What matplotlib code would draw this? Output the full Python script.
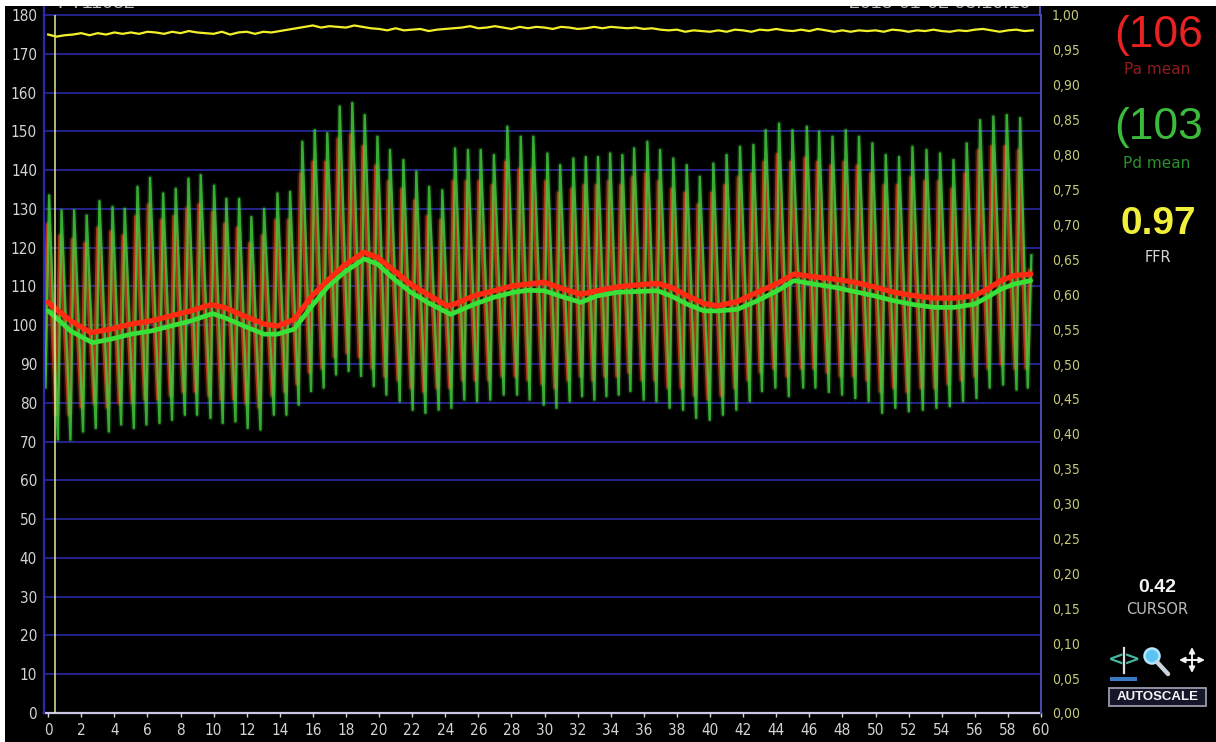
import matplotlib
matplotlib.use("Agg")
import matplotlib.pyplot as plt
from matplotlib import font_manager
from matplotlib.patches import Rectangle, Circle
from matplotlib.lines import Line2D

# ---------------- recorded data ----------------
# beat peak times (s)
beat_t = [0.06, 0.81, 1.57, 2.33, 3.10, 3.89, 4.63, 5.40, 6.16, 6.95, 7.71, 8.48, 9.22, 10.03,
          10.77, 11.54, 12.28, 13.05, 13.86, 14.62,
          15.36, 16.11, 16.87, 17.62, 18.38, 19.13, 19.90, 20.66, 21.47, 22.25, 23.02, 23.82,
          24.59, 25.37, 26.14, 26.94, 27.75, 28.56, 29.32,
          30.17, 30.94, 31.74, 32.49, 33.23, 33.96, 34.70, 35.41, 36.21, 36.98, 37.78, 38.59,
          39.38, 40.20, 41.00, 41.81, 42.62, 43.36, 44.17, 44.98,
          45.85, 46.59, 47.40, 48.20, 49.00, 49.81, 50.62, 51.42, 52.23, 53.08, 53.90, 54.71,
          55.51, 56.32, 57.12, 57.93, 58.74, 59.42]

# distal pressure (Pd) per beat, mmHg
pd_sys = [133.5, 129.6, 129.6, 128.3, 132.0, 130.5, 130.0, 135.7, 138.0, 134.0, 135.2, 137.8,
          138.7, 136.0, 132.6, 132.6, 127.9, 130.0, 134.0, 134.4,
          147.3, 150.3, 149.5, 156.4, 157.3, 154.2, 148.6, 145.2, 142.6, 139.6, 135.7, 134.8,
          145.6, 145.2, 145.2, 143.9, 151.2, 148.6, 148.6,
          144.3, 141.3, 143.0, 143.4, 143.4, 144.3, 143.9, 145.6, 147.3, 145.2, 143.0, 141.3,
          138.3, 141.7, 143.9, 146.0, 146.5, 150.3, 152.0, 150.3,
          151.2, 149.9, 148.6, 150.3, 148.6, 146.9, 143.9, 143.4, 146.0, 145.2, 144.3, 142.6,
          146.9, 152.9, 153.8, 154.2, 153.4, 118.0]
pd_dia = [84.0, 70.5, 70.5, 72.6, 73.5, 72.6, 74.4, 73.5, 74.4, 74.8, 75.6, 76.9, 76.9, 76.1,
          74.8, 75.2, 73.5, 73.1, 76.9, 76.9,
          79.5, 83.0, 83.9, 87.3, 88.2, 86.9, 84.3, 82.1, 80.4, 78.2, 77.4, 78.2, 78.7, 80.8,
          80.4, 80.8, 82.1, 82.1, 80.8,
          79.5, 78.7, 80.4, 81.7, 80.8, 81.7, 82.1, 83.0, 80.8, 80.4, 78.7, 78.2, 76.1, 75.6,
          76.9, 78.2, 80.4, 83.0, 83.9, 81.7,
          83.9, 83.9, 82.8, 82.1, 81.2, 80.4, 77.4, 78.7, 77.8, 78.2, 78.7, 79.1, 80.4, 81.2,
          83.9, 84.7, 83.4, 83.9]

# aortic pressure (Pa) per beat, mmHg
pa_sys = [126, 123, 122, 121, 125, 124, 123, 128, 131, 127, 128, 130, 131, 129, 126, 125, 121,
          123, 127, 127,
          139, 142, 142, 148, 149, 146, 141, 137, 135, 132, 128, 127, 137, 137, 137, 136, 142,
          140, 140,
          137, 134, 135, 136, 136, 137, 136, 138, 139, 137, 135, 134, 131, 134, 136, 138, 139,
          142, 144, 142,
          143, 142, 141, 142, 141, 139, 136, 136, 138, 137, 137, 135, 139, 145, 146, 146, 145,
          114]
pa_dia = [88, 77, 77, 79, 80, 79, 80, 80, 81, 81, 82, 83, 83, 82, 81, 81, 80, 79, 82, 83,
          85, 88, 89, 92, 93, 92, 89, 87, 86, 84, 83, 84, 84, 86, 86, 86, 87, 87, 86,
          85, 84, 86, 87, 86, 87, 87, 88, 86, 86, 84, 84, 82, 81, 82, 84, 86, 88, 89, 87,
          89, 89, 88, 87, 87, 86, 83, 84, 83, 84, 84, 85, 86, 87, 89, 90, 89, 89]

# running means
pa_mean_t = [0, 0.36, 1.37, 2.58, 3.79, 5.0, 6.2, 7.41, 8.62, 9.83, 10.64, 11.84, 13.05, 13.86,
             14.87, 15.87, 16.87, 17.88, 19.09, 19.9, 20.9, 21.91, 22.92, 24.12, 24.53, 25.74,
             26.94, 28.15, 29.97, 31.18, 32.19, 33.19, 34.4, 35.61, 36.82, 37.62, 38.63, 39.64,
             40.44, 41.65, 42.86, 44.07, 45.08, 46.29, 47.5, 48.7, 49.91, 51.12, 52.33, 53.54,
             54.75, 55.96, 56.76, 57.57, 58.37, 59.38]
pa_mean = [105.9, 104.6, 101.1, 98.1, 99.0, 100.3, 101.1, 102.4, 103.7, 105.3, 104.6, 102.4,
           100.3, 99.8, 101.5, 107.2, 111.5, 115.4, 118.8, 117.5, 114.1, 110.6, 108.0, 105.0,
           105.4, 107.6, 108.9, 110.2, 111.1, 109.3, 108.0, 108.9, 109.9, 110.4, 110.8, 109.8,
           107.6, 105.6, 105.0, 106.1, 108.5, 110.8, 113.2, 112.5, 111.9, 111.1, 109.9, 108.5,
           107.6, 107.0, 107.0, 107.6, 109.3, 111.5, 112.8, 113.2]
pd_mean_t = [0, 0.36, 1.37, 2.68, 3.79, 5.0, 6.2, 7.41, 8.62, 9.93, 10.64, 11.84, 13.05, 13.86,
             14.87, 15.87, 16.87, 17.88, 19.09, 19.9, 20.9, 21.91, 22.92, 24.33, 25.74, 26.94,
             28.15, 28.96, 29.97, 31.18, 32.19, 33.19, 34.4, 35.61, 36.82, 37.62, 38.63, 39.64,
             40.44, 41.65, 42.86, 44.07, 45.08, 46.29, 47.5, 48.7, 49.91, 51.12, 52.33, 53.54,
             54.75, 55.96, 56.76, 57.57, 58.37, 59.38]
pd_mean = [103.7, 102.4, 98.5, 95.5, 96.4, 97.7, 98.5, 99.8, 101.1, 103.0, 102.0, 99.8, 97.7,
           97.7, 99.0, 104.6, 109.8, 113.6, 117.1, 115.8, 111.9, 108.5, 105.9, 102.8, 105.4,
           107.2, 108.5, 109.0, 108.9, 107.2, 105.9, 107.6, 108.5, 108.7, 108.9, 107.6, 105.4,
           103.7, 103.7, 104.1, 106.3, 108.9, 111.5, 110.6, 109.8, 108.7, 107.6, 106.3, 105.3,
           104.6, 104.6, 105.4, 107.2, 109.3, 110.6, 111.5]

# Pd/Pa ratio sampled every 0.5 s
ffr_t = [i * 0.5 for i in range(120)]
ffr_vals = [0.972, 0.969, 0.971, 0.972, 0.974, 0.971, 0.974, 0.972, 0.975, 0.973,
            0.975, 0.973, 0.976, 0.975, 0.973, 0.976, 0.974, 0.977, 0.975, 0.974,
            0.973, 0.976, 0.972, 0.975, 0.976, 0.973, 0.976, 0.975, 0.977, 0.979,
            0.981, 0.983, 0.985, 0.982, 0.984, 0.983, 0.982, 0.985, 0.983, 0.981,
            0.980, 0.978, 0.981, 0.978, 0.979, 0.980, 0.977, 0.979, 0.980, 0.981,
            0.982, 0.984, 0.981, 0.982, 0.984, 0.982, 0.980, 0.983, 0.981, 0.983,
            0.982, 0.980, 0.983, 0.982, 0.980, 0.981, 0.983, 0.981, 0.983, 0.982,
            0.981, 0.982, 0.980, 0.981, 0.979, 0.978, 0.979, 0.976, 0.978, 0.977,
            0.976, 0.978, 0.976, 0.979, 0.978, 0.976, 0.979, 0.978, 0.980, 0.978,
            0.977, 0.979, 0.977, 0.980, 0.978, 0.976, 0.978, 0.976, 0.978, 0.977,
            0.978, 0.976, 0.979, 0.978, 0.976, 0.978, 0.977, 0.979, 0.977, 0.976,
            0.978, 0.977, 0.979, 0.980, 0.978, 0.976, 0.978, 0.979, 0.977, 0.978]

cursor_t = 0.42
pa_mean_now, pd_mean_now, ffr_now = 106, 103, 0.97
x_ticks = list(range(0, 61, 2))
y_ticks = list(range(0, 181, 10))
ratio_ticks = [i * 0.05 for i in range(21)]

# ---------------- styling ----------------
W, H = 1216, 742
names = {f.name for f in font_manager.fontManager.ttflist}
SANS = 'Liberation Sans' if 'Liberation Sans' in names else 'DejaVu Sans'
TICK_FONT = dict(family='DejaVu Sans', stretch='condensed')

GRID = '#23238c'
RISE = 0.22      # upstroke duration drawn for each beat
PA_LEAD = 0.10   # aortic trace precedes the distal trace

fig = plt.figure(figsize=(W / 100, H / 100), dpi=100, facecolor='black')
ax = fig.add_axes([44 / W, 1 - 713 / H, (1041 - 44) / W, (713 - 15) / H])
ax.set_facecolor('black')
ax.set_xlim(-0.25, 60)
ax.set_ylim(0, 180)
for s in ax.spines.values():
    s.set_visible(False)

for v in y_ticks[1:]:
    ax.axhline(v, color=GRID, lw=1.4, zorder=1, clip_on=False)
ax.axhline(0, color='#c8c8e6', lw=1.6, zorder=5, clip_on=False)
ax.axvline(-0.25, color='#2a2ab0', lw=1.6, zorder=5, clip_on=False)
ax.axvline(60, color='#4a4ab0', lw=1.4, zorder=5, clip_on=False)


def zigzag(times, sys_v, dia_v, lead):
    t, v = [], []
    for pt, s, d in zip(times, sys_v, dia_v):
        t += [pt - lead - RISE, pt - lead]
        v += [d, s]
    return t, v


t_pa, v_pa = zigzag(beat_t, pa_sys, pa_dia, PA_LEAD)
t_pd, v_pd = zigzag(beat_t, pd_sys, pd_dia, 0.0)
# soft halo under each pressure trace, then the trace itself
ax.plot(t_pa, v_pa, color='#b4341a', lw=5.0, alpha=0.25, zorder=2)
ax.plot(t_pd, v_pd, color='#44cc3c', lw=4.0, alpha=0.16, zorder=2)
ax.plot(t_pa, v_pa, color='#c03a16', lw=2.4, alpha=0.9, zorder=3)
ax.plot(t_pd, v_pd, color='#46d040', lw=1.7, alpha=0.8, zorder=4)

ax.plot(pd_mean_t, pd_mean, color='#38e038', lw=3.4, zorder=6, solid_capstyle='round')
ax.plot(pa_mean_t, pa_mean, color='#ff2a12', lw=3.8, zorder=7, solid_capstyle='round')

ax.axvline(cursor_t, color='#e6e69a', lw=1.1, zorder=8)

ax.set_xticks(x_ticks)
ax.set_xticklabels([str(v) for v in x_ticks])
ax.set_yticks(y_ticks)
ax.set_yticklabels([str(v) for v in y_ticks])
ax.tick_params(axis='x', colors='#d4d4d4', length=3, width=1, pad=4, labelsize=11)
ax.tick_params(axis='y', colors='#d4d4d4', length=0, pad=5, labelsize=11)
for lab in ax.get_xticklabels() + ax.get_yticklabels():
    lab.set_family(TICK_FONT['family'])
    lab.set_stretch(TICK_FONT['stretch'])

ax2 = ax.twinx()
ax2.set_ylim(0, 1.0)
for s in ax2.spines.values():
    s.set_visible(False)
ax2.plot(ffr_t, ffr_vals, color='#f2f028', lw=1.6, zorder=9)
ax2.set_yticks(ratio_ticks)
ax2.set_yticklabels([f"{v:.2f}".replace('.', ',') for v in ratio_ticks])
ax2.tick_params(axis='y', colors='#c8c87a', length=0, pad=8, labelsize=10)
for lab in ax2.get_yticklabels():
    lab.set_family(TICK_FONT['family'])
    lab.set_stretch(TICK_FONT['stretch'])

# ---------------- side panel and frame (pixel coordinates) ----------------
ov = fig.add_axes([0, 0, 1, 1], zorder=10)
ov.set_xlim(0, W)
ov.set_ylim(H, 0)
ov.axis('off')
ov.patch.set_alpha(0)

ov.text(57, 12, 'PT11032', color='#bdbdbd', fontsize=14, family=SANS, va='bottom', ha='left')
ov.text(1030, 12, '2018-01-02 08:10:10', color='#bdbdbd', fontsize=14, family=SANS,
        va='bottom', ha='right')
ov.add_line(Line2D([44, 44], [0, 15], color='#2a2ab0', lw=1.6))
ov.add_line(Line2D([1040, 1040], [0, 15], color='#4a4ab0', lw=1.4))

ov.text(1159, 36, f'({pa_mean_now}', color='#e82222', fontsize=32, family=SANS,
        ha='center', va='center')
ov.text(1157, 70, 'Pa mean', color='#8e1c1c', fontsize=11, family='DejaVu Sans',
        ha='center', va='center')
ov.text(1159, 128, f'({pd_mean_now}', color='#3cba3c', fontsize=32, family=SANS,
        ha='center', va='center')
ov.text(1157, 163, 'Pd mean', color='#2c8e2c', fontsize=11, family='DejaVu Sans',
        ha='center', va='center')
ov.text(1158, 224, f'{ffr_now:.2f}', color='#f0f03c', fontsize=28, family=SANS,
        weight='bold', ha='center', va='center')
ov.text(1158, 258, 'FFR', color='#d6d6d6', fontsize=10.5, family='DejaVu Sans',
        ha='center', va='center')
ov.text(1157, 588, f'{cursor_t:.2f}', color='#f4f4f4', fontsize=14, family=SANS,
        weight='bold', ha='center', va='center')
ov.text(1157, 610, 'CURSOR', color='#bcbcbc', fontsize=10.5, family='DejaVu Sans',
        ha='center', va='center')

# tool icons
ov.text(1116, 660, '<', color='#48b8a4', fontsize=14, weight='bold', ha='center', va='center')
ov.text(1132, 660, '>', color='#48b8a4', fontsize=14, weight='bold', ha='center', va='center')
ov.add_line(Line2D([1124, 1124], [648, 673], color='#e0e0e0', lw=1.6))
ov.add_patch(Rectangle((1110, 677), 27, 4, facecolor='#3a7ac4', edgecolor='none'))
ov.add_line(Line2D([1157, 1168], [662, 674], color='#c8d4e0', lw=3.2, solid_capstyle='round'))
ov.add_patch(Circle((1152, 656), 7.5, facecolor='#5cc4f2', edgecolor='#b4e6ff', lw=1.8))
for dx, dy in [(13, 0), (-13, 0), (0, 13), (0, -13)]:
    ov.annotate('', xy=(1192 + dx, 660 + dy), xytext=(1192, 660),
                arrowprops=dict(arrowstyle='-|>', color='#f2f2f2', lw=1.4,
                                mutation_scale=8, shrinkA=0, shrinkB=0))
ov.add_patch(Rectangle((1109, 688), 97, 18, facecolor='#16162a', edgecolor='#9a9aaa', lw=1.3))
ov.text(1157.5, 697.5, 'AUTOSCALE', color='#f4f4f4', fontsize=9.5, family=SANS,
        weight='bold', ha='center', va='center')

# white border of the capture
ov.add_patch(Rectangle((0, 0), W, 6, facecolor='white', edgecolor='none', zorder=20))
ov.add_patch(Rectangle((0, 0), 5, H, facecolor='white', edgecolor='none', zorder=20))

fig.savefig('out.png', dpi=100, facecolor='black')
